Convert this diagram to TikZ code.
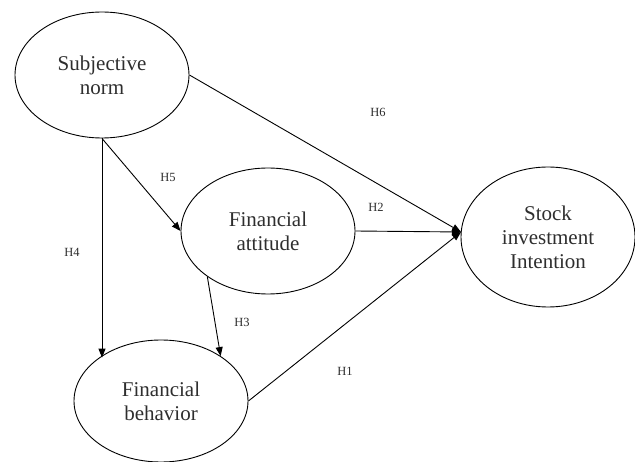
\documentclass[tikz,border=0pt]{standalone}
\usepackage{fontspec}
\setmainfont{Liberation Serif}
\usetikzlibrary{shapes.geometric,arrows.meta}
\definecolor{txt}{gray}{0.18}
\begin{document}
\begin{tikzpicture}[x=1pt,y=-1pt,
  construct/.style={draw=black,line width=0.9pt,ellipse,inner sep=0pt,
    minimum width=174pt,minimum height=126pt,align=center,
    text=txt,font=\fontsize{21}{24}\selectfont},
  hlabel/.style={text=txt,font=\fontsize{12.5}{14}\selectfont,inner sep=0pt},
  path/.style={draw=black,line width=0.9pt,-{Triangle[length=9pt,width=7pt]}}]
\useasboundingbox (0,0) rectangle (635,462);
\node[construct] (SN) at (102,75) {Subjective\\norm};
\node[construct] (FA) at (268,231) {Financial\\attitude};
\node[construct,minimum height=122pt] (FB) at (161,401) {Financial\\behavior};
\node[construct,minimum height=140pt] (SI) at (548,237) {Stock\\investment\\Intention};
\coordinate (tip) at (461,232);
\draw[path] (SN.east) -- (tip);
\draw[path] (FA.east) -- (tip);
\draw[path] (FB.east) -- (tip);
\draw[path] (SN.south) -- (SN.south |- FB.145);
\draw[path] (SN.south) -- (FA.west);
\draw[path] (FA.217) -- (FB.37);
\node[hlabel] (h6) at (378,112) {H6};
\node[hlabel] (h5) at (168,177) {H5};
\node[hlabel] (h2) at (376,207) {H2};
\node[hlabel] (h3) at (242,322) {H3};
\node[hlabel] (h4) at (72,252) {H4};
\node[hlabel] (h1) at (345,371) {H1};
\end{tikzpicture}
\end{document}
